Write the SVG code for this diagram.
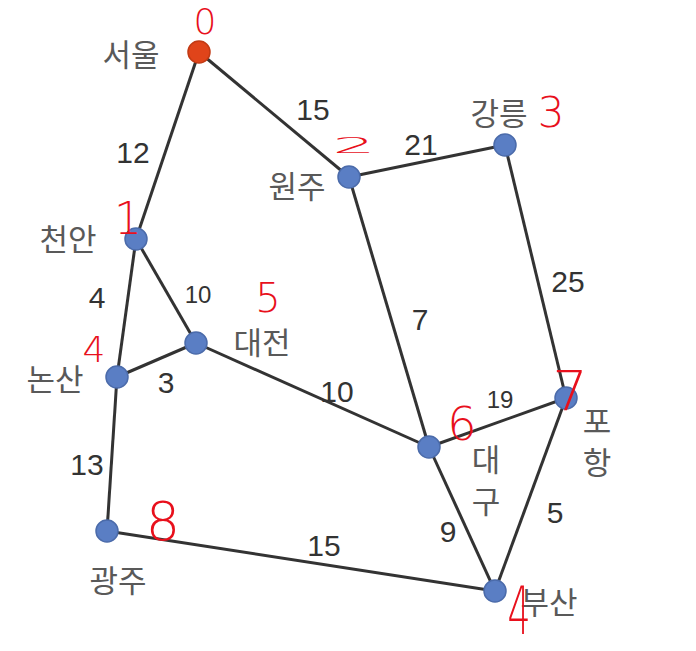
<svg xmlns="http://www.w3.org/2000/svg" width="696" height="651" viewBox="0 0 696 651">
<style>
.e{stroke:#333;stroke-width:3;fill:none}
.n{fill:#5A7EC4;stroke:#4B6BAA;stroke-width:1.5}
.s{fill:#E0441A;stroke:#C23A14;stroke-width:1.5}
.c{font-family:"Noto Sans CJK KR","Noto Sans",sans-serif;font-size:31px;fill:#595959;text-anchor:middle}
.w{font-family:"Liberation Sans",Arial,sans-serif;font-size:30px;fill:#333;text-anchor:middle}
.r{font-family:"DejaVu Sans",sans-serif;font-weight:200;fill:#E8101C;text-anchor:middle}
</style>
<rect width="696" height="651" fill="#fff"/>
<g id="edges">
<line class="e" x1="199" y1="52" x2="136" y2="239"/>
<line class="e" x1="199" y1="52" x2="349" y2="177"/>
<line class="e" x1="349" y1="177" x2="505" y2="145"/>
<line class="e" x1="349" y1="177" x2="429" y2="447"/>
<line class="e" x1="505" y1="145" x2="566" y2="398"/>
<line class="e" x1="136" y1="239" x2="196" y2="343"/>
<line class="e" x1="136" y1="239" x2="117" y2="377"/>
<line class="e" x1="117" y1="377" x2="196" y2="343"/>
<line class="e" x1="196" y1="343" x2="429" y2="447"/>
<line class="e" x1="429" y1="447" x2="566" y2="398"/>
<line class="e" x1="429" y1="447" x2="495" y2="591"/>
<line class="e" x1="566" y1="398" x2="495" y2="591"/>
<line class="e" x1="117" y1="377" x2="107" y2="531"/>
<line class="e" x1="107" y1="531" x2="495" y2="591"/>
</g>
<g id="weights">
<text class="w" x="133" y="163">12</text>
<text class="w" x="313" y="120">15</text>
<text class="w" x="421" y="155">21</text>
<text class="w" x="420" y="330">7</text>
<text class="w" x="568" y="292">25</text>
<text class="w" x="198" y="303" style="font-size:24px">10</text>
<text class="w" x="97" y="308">4</text>
<text class="w" x="166" y="393">3</text>
<text class="w" x="337" y="402">10</text>
<text class="w" x="500" y="408" style="font-size:24px">19</text>
<text class="w" x="448" y="542">9</text>
<text class="w" x="555" y="523">5</text>
<text class="w" x="87" y="475">13</text>
<text class="w" x="324" y="556">15</text>
</g>
<g id="seoul"><circle class="s" cx="199" cy="52" r="11"/><text class="c" x="131" y="66">서울</text></g>
<g id="wonju"><circle class="n" cx="349" cy="177" r="11"/><text class="c" x="297" y="198">원주</text></g>
<g id="gangneung"><circle class="n" cx="505" cy="145" r="11"/><text class="c" x="499" y="125">강릉</text></g>
<g id="cheonan"><circle class="n" cx="136" cy="239" r="11"/><text class="c" x="68" y="251">천안</text></g>
<g id="daejeon"><circle class="n" cx="196" cy="343" r="11"/><text class="c" x="262" y="354">대전</text></g>
<g id="nonsan"><circle class="n" cx="117" cy="377" r="11"/><text class="c" x="55" y="391">논산</text></g>
<g id="daegu"><circle class="n" cx="429" cy="447" r="11"/><text class="c" x="486" y="471">대</text><text class="c" x="486" y="513">구</text></g>
<g id="pohang"><circle class="n" cx="566" cy="398" r="11"/><text class="c" x="597" y="433">포</text><text class="c" x="597" y="474">항</text></g>
<g id="gwangju"><circle class="n" cx="107" cy="531" r="11"/><text class="c" x="118" y="592">광주</text></g>
<g id="busan"><circle class="n" cx="495" cy="591" r="11"/><text class="c" x="549" y="614">부산</text></g>
<g id="annotations">
<text class="r" x="205" y="34" font-size="36">0</text>
<text class="r" x="354" y="153" font-size="36" transform="translate(354 153) scale(1.9 0.6) translate(-354 -153)">2</text>
<text class="r" x="551" y="127" font-size="42">3</text>
<text class="r" x="128" y="234" font-size="44">1</text>
<text class="r" x="268" y="312" font-size="40">5</text>
<text class="r" x="94" y="362" font-size="36">4</text>
<text class="r" x="462" y="440" font-size="46">6</text>
<text class="r" x="570" y="410" font-size="56">7</text>
<text class="r" x="163" y="540" font-size="54">8</text>
<text class="r" x="519" y="634" font-size="66" transform="translate(519 634) scale(0.55 1) translate(-519 -634)">4</text>
</g>
</svg>
